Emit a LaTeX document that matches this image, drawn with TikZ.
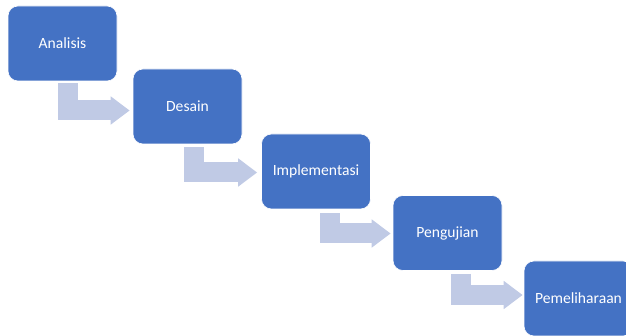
\documentclass[tikz,border=0pt]{standalone}
\usepackage{fontspec}
\setmainfont{Carlito}
\usetikzlibrary{arrows.meta,calc}
\definecolor{boxblue}{HTML}{4472C4}
\definecolor{arrowlav}{HTML}{C0CAE5}
\begin{document}
\begin{tikzpicture}[x=1pt,y=-1pt,
  stagebox/.style={rectangle, rounded corners=10pt, fill=boxblue, draw=white, line width=0.6pt,
    minimum width=109pt, minimum height=75pt, inner sep=0pt, text=white,
    font=\fontsize{15.6}{18}\selectfont},
  bentarrow/.style={draw=arrowlav, line width=20pt, line join=miter, line cap=butt,
    -{Triangle[length=19pt,width=27pt]}}]
\clip (0,0) rectangle (626,336);
\node[stagebox] (b1) at (62.5,43.5) {Analisis};
\node[stagebox] (b2) at (187.5,106.5) {Desain};
\node[stagebox] (b3) at (316,171.5) {Implementasi};
\node[stagebox] (b4) at (447.5,233) {Pengujian};
\node[stagebox] (b5) at (578.5,298.5) {Pemeliharaan};
\draw[bentarrow] ($(b1.south west)+(60.5,2)$) |- ($(b2.west)+(-3,4)$);
\draw[bentarrow] ($(b2.south west)+(61.5,3)$) |- ($(b3.west)+(-4,1)$);
\draw[bentarrow] ($(b3.south west)+(69,4)$) |- ($(b4.west)+(-2,0.5)$);
\draw[bentarrow] ($(b4.south west)+(68.5,3)$) |- ($(b5.west)+(-1,-3.5)$);
\end{tikzpicture}
\end{document}
